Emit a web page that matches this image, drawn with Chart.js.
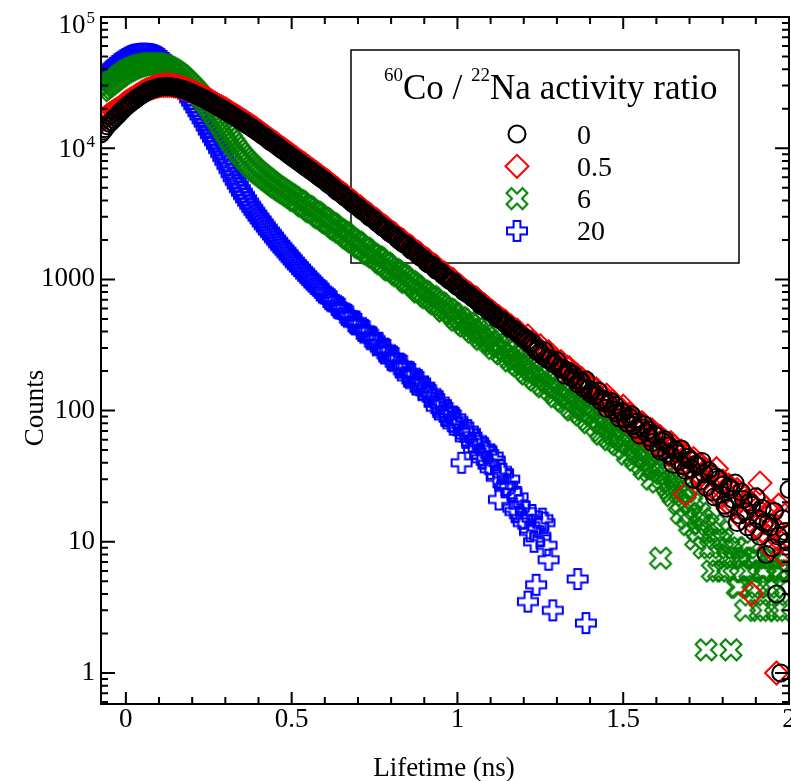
<!DOCTYPE html>
<html>
<head>
<meta charset="utf-8">
<title>Lifetime spectra</title>
<script src="https://cdn.jsdelivr.net/npm/chart.js@4.4.1/dist/chart.umd.min.js"></script>
<style>
  html, body { margin: 0; padding: 0; background: #fff; }
  #wrap { width: 791px; height: 781px; }
</style>
</head>
<body>
<div id="wrap"><canvas id="spectra" width="791" height="781"></canvas></div>
<script>
// Channel times (ns), 6.25 ps channels
const lifetimeNs = [
  -0.075, -0.06875, -0.0625, -0.05625, -0.05, -0.04375, -0.0375, -0.03125, -0.025, -0.01875, -0.0125, -0.00625,
  0, 0.00625, 0.0125, 0.01875, 0.025, 0.03125, 0.0375, 0.04375, 0.05, 0.05625, 0.0625, 0.06875, 0.075, 0.08125, 0.0875, 0.09375,
  0.1, 0.10625, 0.1125, 0.11875, 0.125, 0.13125, 0.1375, 0.14375, 0.15, 0.15625, 0.1625, 0.16875, 0.175, 0.18125, 0.1875, 0.19375,
  0.2, 0.20625, 0.2125, 0.21875, 0.225, 0.23125, 0.2375, 0.24375, 0.25, 0.25625, 0.2625, 0.26875, 0.275, 0.28125, 0.2875, 0.29375,
  0.3, 0.30625, 0.3125, 0.31875, 0.325, 0.33125, 0.3375, 0.34375, 0.35, 0.35625, 0.3625, 0.36875, 0.375, 0.38125, 0.3875, 0.39375,
  0.4, 0.40625, 0.4125, 0.41875, 0.425, 0.43125, 0.4375, 0.44375, 0.45, 0.45625, 0.4625, 0.46875, 0.475, 0.48125, 0.4875, 0.49375,
  0.5, 0.50625, 0.5125, 0.51875, 0.525, 0.53125, 0.5375, 0.54375, 0.55, 0.55625, 0.5625, 0.56875, 0.575, 0.58125, 0.5875, 0.59375,
  0.6, 0.60625, 0.6125, 0.61875, 0.625, 0.63125, 0.6375, 0.64375, 0.65, 0.65625, 0.6625, 0.66875, 0.675, 0.68125, 0.6875, 0.69375,
  0.7, 0.70625, 0.7125, 0.71875, 0.725, 0.73125, 0.7375, 0.74375, 0.75, 0.75625, 0.7625, 0.76875, 0.775, 0.78125, 0.7875, 0.79375,
  0.8, 0.80625, 0.8125, 0.81875, 0.825, 0.83125, 0.8375, 0.84375, 0.85, 0.85625, 0.8625, 0.86875, 0.875, 0.88125, 0.8875, 0.89375,
  0.9, 0.90625, 0.9125, 0.91875, 0.925, 0.93125, 0.9375, 0.94375, 0.95, 0.95625, 0.9625, 0.96875, 0.975, 0.98125, 0.9875, 0.99375,
  1.0, 1.00625, 1.0125, 1.01875, 1.025, 1.03125, 1.0375, 1.04375, 1.05, 1.05625, 1.0625, 1.06875, 1.075, 1.08125, 1.0875, 1.09375,
  1.1, 1.10625, 1.1125, 1.11875, 1.125, 1.13125, 1.1375, 1.14375, 1.15, 1.15625, 1.1625, 1.16875, 1.175, 1.18125, 1.1875, 1.19375,
  1.2, 1.20625, 1.2125, 1.21875, 1.225, 1.23125, 1.2375, 1.24375, 1.25, 1.25625, 1.2625, 1.26875, 1.275, 1.28125, 1.2875, 1.29375,
  1.3, 1.30625, 1.3125, 1.31875, 1.325, 1.33125, 1.3375, 1.34375, 1.35, 1.35625, 1.3625, 1.36875, 1.375, 1.38125, 1.3875, 1.39375,
  1.4, 1.40625, 1.4125, 1.41875, 1.425, 1.43125, 1.4375, 1.44375, 1.45, 1.45625, 1.4625, 1.46875, 1.475, 1.48125, 1.4875, 1.49375,
  1.5, 1.50625, 1.5125, 1.51875, 1.525, 1.53125, 1.5375, 1.54375, 1.55, 1.55625, 1.5625, 1.56875, 1.575, 1.58125, 1.5875, 1.59375,
  1.6, 1.60625, 1.6125, 1.61875, 1.625, 1.63125, 1.6375, 1.64375, 1.65, 1.65625, 1.6625, 1.66875, 1.675, 1.68125, 1.6875, 1.69375,
  1.7, 1.70625, 1.7125, 1.71875, 1.725, 1.73125, 1.7375, 1.74375, 1.75, 1.75625, 1.7625, 1.76875, 1.775, 1.78125, 1.7875, 1.79375,
  1.8, 1.80625, 1.8125, 1.81875, 1.825, 1.83125, 1.8375, 1.84375, 1.85, 1.85625, 1.8625, 1.86875, 1.875, 1.88125, 1.8875, 1.89375,
  1.9, 1.90625, 1.9125, 1.91875, 1.925, 1.93125, 1.9375, 1.94375, 1.95, 1.95625, 1.9625, 1.96875, 1.975, 1.98125, 1.9875, 1.99375,
  2.0
];

// Counts per channel, 60Co/22Na activity ratio = 0
const counts0 = [
  12900, 13500, 14100, 14800, 15500, 16000, 16600, 17200, 17800, 18500, 19300, 20000,
  20700, 21300, 21900, 22600, 23200, 23800, 24500, 25100, 25700, 26300, 26900, 27400, 27900, 28200, 28500, 28900,
  29200, 29400, 29500, 29600, 29600, 29500, 29400, 29200, 29000, 28800, 28500, 28200, 27900, 27500, 27100, 26700,
  26300, 25800, 25400, 25000, 24600, 24100, 23700, 23200, 22800, 22300, 21900, 21400, 21000, 20500, 20100, 19700,
  19300, 18800, 18400, 18000, 17600, 17200, 16800, 16400, 16000, 15700, 15300, 14900, 14600, 14200, 13900, 13500,
  13200, 12800, 12500, 12200, 11900, 11500, 11200, 11000, 10700, 10400, 10100, 9830, 9580, 9330, 9080, 8840,
  8610, 8390, 8170, 7950, 7740, 7540, 7350, 7160, 6970, 6790, 6610, 6440, 6270, 6090, 5930, 5780,
  5640, 5460, 5290, 5160, 5030, 4850, 4700, 4600, 4490, 4330, 4200, 4110, 3990, 3850, 3730, 3660,
  3570, 3440, 3330, 3270, 3180, 3060, 2960, 2910, 2840, 2730, 2650, 2580, 2490, 2450, 2390, 2290,
  2230, 2190, 2140, 2040, 1980, 1930, 1870, 1850, 1800, 1720, 1660, 1640, 1600, 1530, 1480, 1460,
  1420, 1350, 1310, 1300, 1280, 1210, 1170, 1160, 1140, 1080, 1050, 1030, 990, 968, 962, 911,
  884, 868, 843, 808, 790, 781, 758, 729, 712, 697, 676, 640, 625, 619, 601, 574,
  560, 549, 531, 508, 497, 494, 478, 459, 455, 428, 418, 419, 404, 389, 381, 372,
  349, 356, 341, 322, 330, 301, 284, 296, 277, 262, 286, 250, 243, 247, 229, 226,
  241, 213, 207, 209, 186, 201, 196, 179, 188, 172, 160, 169, 166, 148, 171, 146,
  136, 142, 129, 131, 141, 119, 115, 121, 104, 113, 118, 101, 110, 96, 88, 99,
  97, 86, 80, 89, 93, 77, 72, 82, 65, 74, 78, 68, 71, 62, 57, 66,
  64, 52, 49, 58, 60, 47, 54, 45, 39, 50, 47, 41, 51, 38, 35, 44,
  42, 36, 30, 39, 38, 29, 41, 33, 26, 35, 33, 24, 22, 31, 30, 23,
  27, 19, 18, 26, 25, 21, 28, 14, 16, 24, 21, 17, 13, 20, 19, 12,
  22, 15, 11, 18, 14, 8, 14, 13, 9, 17, 4, 11, 1, 15, 12, 10,
  25
];

// ratio = 0.5
const counts05 = [
  16200, 16700, 17200, 17700, 18200, 18600, 19100, 19500, 19950, 20500, 21100, 21800,
  22400, 22900, 23400, 24000, 24500, 25100, 25700, 26300, 26800, 27300, 27800, 28200, 28600, 29000, 29300, 29600,
  29900, 30100, 30200, 30200, 30200, 30200, 30100, 29900, 29700, 29500, 29200, 28900, 28600, 28300, 27900, 27500,
  27100, 26700, 26200, 25800, 25300, 24900, 24400, 24000, 23500, 23000, 22500, 22000, 21600, 21100, 20700, 20300,
  19900, 19500, 19050, 18600, 18200, 17800, 17400, 17000, 16560, 16200, 15840, 15470, 15110, 14750, 14390, 14020,
  13660, 13300, 12940, 12630, 12320, 11950, 11600, 11330, 11070, 10760, 10450, 10180, 9920, 9660, 9400, 9150,
  8910, 8680, 8460, 8230, 8010, 7810, 7610, 7410, 7210, 7020, 6840, 6660, 6490, 6310, 6140, 5970,
  5800, 5660, 5520, 5340, 5170, 5050, 4920, 4750, 4600, 4500, 4390, 4230, 4100, 4010, 3910, 3770,
  3650, 3580, 3490, 3360, 3250, 3190, 3110, 2990, 2900, 2850, 2770, 2660, 2580, 2540, 2470, 2370,
  2300, 2260, 2210, 2110, 2040, 2020, 1970, 1880, 1820, 1800, 1760, 1680, 1620, 1610, 1570, 1490,
  1440, 1430, 1400, 1330, 1290, 1280, 1250, 1180, 1140, 1130, 1110, 1050, 1020, 1010, 993, 941,
  912, 899, 872, 836, 820, 797, 781, 749, 731, 721, 699, 668, 651, 639, 617, 598,
  571, 566, 548, 527, 519, 502, 489, 481, 461, 446, 440, 419, 412, 408, 391, 377,
  358, 352, 371, 327, 335, 322, 301, 297, 312, 276, 269, 274, 281, 255, 240, 248,
  228, 221, 236, 209, 202, 214, 211, 188, 179, 190, 185, 166, 175, 161, 150, 163,
  158, 139, 134, 146, 139, 125, 119, 127, 131, 111, 104, 118, 112, 99, 95, 103,
  108, 91, 82, 94, 90, 79, 86, 74, 69, 81, 78, 66, 61, 72, 71, 58,
  55, 64, 63, 51, 59, 54, 46, 57, 54, 43, 42, 48, 49, 39, 23, 45,
  37, 41, 43, 33, 32, 39, 38, 30, 27, 35, 34, 26, 31, 36, 22, 28,
  29, 24, 20, 27, 26, 18, 19, 25, 24, 15, 17, 22, 21, 16, 4, 19,
  13, 21, 28, 12, 14, 18, 11, 9, 17, 13, 1, 19, 10, 8, 16, 11,
  9
];

// ratio = 6
const counts6 = [
  27500, 28300, 29200, 30000, 30900, 31800, 32700, 33700, 34700, 35600, 36600, 37600,
  38500, 39100, 39800, 40500, 41200, 41800, 42300, 42700, 43100, 43500, 43800, 44000, 44200, 44100, 44000, 43900,
  43700, 43300, 42800, 42300, 41700, 41000, 40200, 39300, 38400, 37500, 36500, 35400, 34300, 33100, 31900, 30700,
  29500, 28400, 27300, 26200, 25100, 24000, 22900, 21900, 20900, 19800, 18700, 17700, 16800, 15900, 15000, 14100,
  13300, 12600, 11900, 11300, 10700, 10200, 9660, 9220, 8810, 8440, 8090, 7790, 7500, 7230, 6980, 6750,
  6530, 6350, 6170, 5990, 5820, 5660, 5500, 5340, 5190, 5060, 4940, 4820, 4700, 4590, 4480, 4370,
  4270, 4170, 4010, 3980, 3900, 3740, 3630, 3600, 3520, 3370, 3280, 3260, 3190, 3050, 2960, 2930,
  2860, 2750, 2690, 2650, 2575, 2470, 2410, 2370, 2290, 2270, 2200, 2100, 2050, 2010, 1940, 1920,
  1870, 1780, 1740, 1730, 1680, 1590, 1560, 1540, 1480, 1480, 1440, 1360, 1320, 1330, 1290, 1210,
  1180, 1190, 1160, 1100, 1070, 1080, 1045, 982, 948, 962, 935, 894, 884, 832, 801, 815,
  796, 748, 725, 741, 719, 672, 652, 664, 645, 597, 573, 594, 582, 551, 549, 509,
  489, 512, 497, 457, 441, 466, 452, 412, 396, 421, 401, 366, 349, 375, 362, 331,
  338, 318, 297, 323, 309, 279, 270, 291, 284, 254, 239, 262, 247, 226, 219, 236,
  228, 198, 190, 209, 201, 178, 171, 189, 186, 158, 152, 171, 163, 144, 156, 136,
  128, 147, 141, 120, 117, 126, 128, 105, 101, 117, 114, 97, 93, 108, 105, 85,
  81, 94, 92, 76, 87, 70, 66, 81, 78, 63, 60, 73, 72, 57, 55, 66,
  63, 51, 46.5, 57, 58.5, 45, 42, 49.5, 51, 39, 36, 43.5, 45, 34.5, 30, 37.5,
  39, 28.5, 7.5, 33, 34.5, 27, 25.5, 24, 22.5, 30, 28.5, 19.5, 16.5, 25.5, 24, 15,
  13.5, 19.5, 21, 10.5, 12, 16.5, 15, 9, 1.5, 13.5, 9, 6, 13.5, 10.5, 6, 12,
  10.5, 6, 7.5, 9, 1.5, 7.5, 9, 4.5, 4.5, 7.5, 6, 3, 9, 6, 4.5, 7.5,
  7.5, 4.5, 3, 6, 6, 3, 4.5, 7.5, 7.5, 4.5, 3, 6, 6, 3, 4.5, 6,
  6
];

// ratio = 20 (empty channels left out)
const counts20 = [
  33100, 34400, 35700, 37100, 38500, 39700, 41000, 42300, 43600, 44700, 45800, 46900,
  47900, 48900, 49800, 50600, 51300, 51700, 52000, 52300, 52500, 52500, 52400, 52200, 51900, 51300, 50700, 49900,
  49000, 47700, 46200, 44700, 43200, 41400, 39600, 37700, 35900, 33900, 32100, 30200, 28500, 26800, 25300, 23800,
  22400, 21100, 19900, 18700, 17600, 16500, 15500, 14500, 13500, 12700, 11900, 11200, 10500, 9780, 9120, 8500,
  7940, 7390, 6890, 6400, 5960, 5590, 5240, 4920, 4620, 4360, 4110, 3880, 3670, 3480, 3300, 3140,
  2985, 2840, 2700, 2570, 2455, 2340, 2240, 2140, 2040, 1950, 1860, 1780, 1710, 1640, 1570, 1500,
  1440, 1380, 1320, 1270, 1220, 1170, 1130, 1080, 1040, 1000, 966, 925, 895, 861, 832, 812,
  781, 733, 706, 704, 682, 639, 611, 612, 597, 557, 536, 538, 522, 480, 463, 477,
  459, 421, 405, 413, 402, 366, 350, 363, 348, 321, 329, 298, 281, 296, 289, 258,
  243, 256, 251, 225, 213, 222, 219, 192, 181, 196, 190, 166, 158, 171, 165, 145,
  152, 139, 128, 137, 131, 114, 106, 118, 112, 98, 91, 101, 96, 83, 78, 88,
  84, 73, 40, 69, 62, 71, 68, 57, 51, 60, 57, 46, 43, 52, 49, 39,
  36, 45, 42, 31, 21, 35, 33, 26, 27, 30, 24, 18, 17, 22, 19, 15,
  14, 17, 3.5, 12, 16, 10, 4.7, 13, 11, 15, 14, 9.4, 7.3, null, 3.0, null,
  null, null, null, null, null, null, null, null, null, null, 5.2, null, null, null, 2.4, null,
  null, null, null, null, null, null, null, null, null, null, null, null, null, null, null, null,
  null, null, null, null, null, null, null, null, null, null, null, null, null, null, null, null,
  null, null, null, null, null, null, null, null, null, null, null, null, null, null, null, null,
  null, null, null, null, null, null, null, null, null, null, null, null, null, null, null, null,
  null, null, null, null, null, null, null, null, null, null, null, null, null, null, null, null,
  null, null, null, null, null, null, null, null, null, null, null, null, null, null, null, null,
  null
];

const seriesLabels = ['0', '0.5', '6', '20'];

const xTickValues = [0, 0.5, 1, 1.5, 2];
const xTickLabels = ['0', '0.5', '1', '1.5', '2'];
const xMinorValues = [0.1, 0.2, 0.3, 0.4, 0.6, 0.7, 0.8, 0.9, 1.1, 1.2, 1.3, 1.4, 1.6, 1.7, 1.8, 1.9];

const yTickValues = [1, 10, 100, 1000, 10000, 100000];
const yTickLabels = ['1', '10', '100', '1000', '', ''];
// decades written as 10 with a raised exponent
const yPowerValues = [10000, 100000];
const yPowerExponents = ['4', '5'];
const yMinorValues = [
  0.6, 0.7, 0.8, 0.9,
  2, 3, 4, 5, 6, 7, 8, 9,
  20, 30, 40, 50, 60, 70, 80, 90,
  200, 300, 400, 500, 600, 700, 800, 900,
  2000, 3000, 4000, 5000, 6000, 7000, 8000, 9000,
  20000, 30000, 40000, 50000, 60000, 70000, 80000, 90000
];

const FONT = '"Liberation Serif", "Times New Roman", serif';
const GREEN = '#008000';

// Outlined plus shape; rotated 45 degrees it becomes the x marker
function makeCrossMarker(color, angle, arm, half) {
  const c = document.createElement('canvas');
  c.width = 28;
  c.height = 28;
  const g = c.getContext('2d');
  g.translate(14, 14);
  g.rotate(angle);
  g.beginPath();
  g.moveTo(-half, -arm);
  g.lineTo(half, -arm);
  g.lineTo(half, -half);
  g.lineTo(arm, -half);
  g.lineTo(arm, half);
  g.lineTo(half, half);
  g.lineTo(half, arm);
  g.lineTo(-half, arm);
  g.lineTo(-half, half);
  g.lineTo(-arm, half);
  g.lineTo(-arm, -half);
  g.lineTo(-half, -half);
  g.closePath();
  g.strokeStyle = color;
  g.lineWidth = 2;
  g.stroke();
  return c;
}

const xMarker = makeCrossMarker(GREEN, Math.PI / 4, 11.3, 3.5);
const plusMarker = makeCrossMarker('#0000ff', 0, 10, 3.4);

function toPoints(values) {
  return lifetimeNs
    .map((t, i) => ({ x: t, y: values[i] }))
    .filter(p => p.y !== null);
}

function series(label, values, style, radius, color) {
  return {
    label,
    data: toPoints(values),
    pointStyle: style,
    pointRadius: radius,
    pointBorderWidth: 2,
    pointBorderColor: color,
    pointBackgroundColor: 'rgba(0,0,0,0)',
    showLine: false,
    clip: 0
  };
}

// Draw one legend symbol the same way the points are drawn
function drawSymbol(ctx, ds, x, y) {
  const style = ds.pointStyle;
  if (typeof style === 'object') {
    ctx.drawImage(style, x - style.width / 2, y - style.height / 2);
    return;
  }
  const r = ds.pointRadius;
  ctx.beginPath();
  if (style === 'circle') {
    ctx.arc(x, y, r, 0, Math.PI * 2);
  } else {
    ctx.moveTo(x - r, y);
    ctx.lineTo(x, y - r);
    ctx.lineTo(x + r, y);
    ctx.lineTo(x, y + r);
    ctx.closePath();
  }
  ctx.strokeStyle = ds.pointBorderColor;
  ctx.lineWidth = ds.pointBorderWidth;
  ctx.stroke();
}

// Legend box sits under the data points
const activityLegend = {
  id: 'activityLegend',
  beforeDatasetsDraw(chart) {
    const ctx = chart.ctx;
    ctx.save();
    ctx.strokeStyle = '#000';
    ctx.lineWidth = 1.5;
    ctx.strokeRect(351, 50, 388, 213);

    // title, mass numbers raised and smaller
    const parts = [['60', true], ['Co / ', false], ['22', true], ['Na activity ratio', false]];
    let tx = 384;
    ctx.fillStyle = '#000';
    ctx.textAlign = 'left';
    ctx.textBaseline = 'alphabetic';
    parts.forEach(([text, raised]) => {
      ctx.font = (raised ? '19px ' : '35px ') + FONT;
      ctx.fillText(text, tx, raised ? 81 : 99);
      tx += ctx.measureText(text).width;
    });

    ctx.font = '28px ' + FONT;
    chart.data.datasets.forEach((ds, i) => {
      const y = 134 + i * 32.3;
      drawSymbol(ctx, ds, 517, y);
      ctx.fillStyle = '#000';
      ctx.fillText(ds.label, 577, y + 9.5);
    });
    ctx.restore();
  }
};

// Frame with inward ticks on all four sides, decade labels and axis titles
const axisFrame = {
  id: 'axisFrame',
  afterDraw(chart) {
    const { ctx, chartArea, scales } = chart;
    const { left, right, top, bottom } = chartArea;
    const x = scales.x;
    const y = scales.y;
    ctx.save();
    ctx.strokeStyle = '#000';
    ctx.lineWidth = 2;
    ctx.strokeRect(left, top, right - left, bottom - top);

    ctx.beginPath();
    const xTick = (v, len) => {
      const px = x.getPixelForValue(v);
      ctx.moveTo(px, bottom);
      ctx.lineTo(px, bottom - len);
      ctx.moveTo(px, top);
      ctx.lineTo(px, top + len);
    };
    const yTick = (v, len) => {
      const py = y.getPixelForValue(v);
      ctx.moveTo(left, py);
      ctx.lineTo(left + len, py);
      ctx.moveTo(right, py);
      ctx.lineTo(right - len, py);
    };
    xTickValues.forEach(v => xTick(v, 12));
    xMinorValues.forEach(v => xTick(v, 7));
    yTickValues.forEach(v => yTick(v, 14));
    yMinorValues.forEach(v => yTick(v, 7));
    ctx.stroke();

    // 10^4 and 10^5 labels
    ctx.fillStyle = '#000';
    ctx.textAlign = 'right';
    ctx.textBaseline = 'alphabetic';
    yPowerValues.forEach((v, i) => {
      const py = y.getPixelForValue(v);
      const base = Math.max(py + 9, top + 16);
      ctx.font = '17px ' + FONT;
      const expWidth = ctx.measureText(yPowerExponents[i]).width;
      ctx.fillText(yPowerExponents[i], 95, base - 10);
      ctx.font = '27px ' + FONT;
      ctx.fillText('10', 95 - expWidth - 1, base);
    });

    // axis titles
    ctx.font = '27px ' + FONT;
    ctx.textAlign = 'center';
    ctx.fillText('Lifetime (ns)', 444, 776);
    ctx.translate(43, 408);
    ctx.rotate(-Math.PI / 2);
    ctx.fillText('Counts', 0, 0);
    ctx.restore();
  }
};

new Chart(document.getElementById('spectra'), {
  type: 'scatter',
  data: {
    // first dataset is drawn last, so black sits on top
    datasets: [
      series(seriesLabels[0], counts0, 'circle', 8.5, '#000000'),
      series(seriesLabels[1], counts05, 'rectRot', 11.5, '#ff0000'),
      series(seriesLabels[2], counts6, xMarker, 10, GREEN),
      series(seriesLabels[3], counts20, plusMarker, 10, '#0000ff')
    ]
  },
  options: {
    responsive: false,
    devicePixelRatio: 1,
    animation: false,
    events: [],
    layout: { autoPadding: false, padding: { top: 17, right: 2, left: 0, bottom: 0 } },
    plugins: {
      legend: { display: false },
      tooltip: { enabled: false }
    },
    scales: {
      x: {
        type: 'linear',
        min: -0.075,
        max: 2.0,
        grid: { display: false, drawTicks: false },
        border: { display: false },
        afterBuildTicks: s => { s.ticks = xTickValues.map(v => ({ value: v })); },
        afterFit: s => { s.height = 77; s.paddingLeft = 0; s.paddingRight = 0; },
        ticks: {
          font: { family: FONT, size: 27 },
          color: '#000',
          padding: 0,
          autoSkip: false,
          maxRotation: 0,
          minRotation: 0,
          callback: (v, i) => xTickLabels[i]
        }
      },
      y: {
        type: 'logarithmic',
        min: 0.58,
        max: 100000,
        grid: { display: false, drawTicks: false },
        border: { display: false },
        afterBuildTicks: s => { s.ticks = yTickValues.map(v => ({ value: v })); },
        afterFit: s => { s.width = 101; s.paddingTop = 0; s.paddingBottom = 0; },
        ticks: {
          font: { family: FONT, size: 27 },
          color: '#000',
          padding: 6,
          autoSkip: false,
          callback: (v, i) => yTickLabels[i]
        }
      }
    }
  },
  plugins: [activityLegend, axisFrame]
});
</script>
</body>
</html>
